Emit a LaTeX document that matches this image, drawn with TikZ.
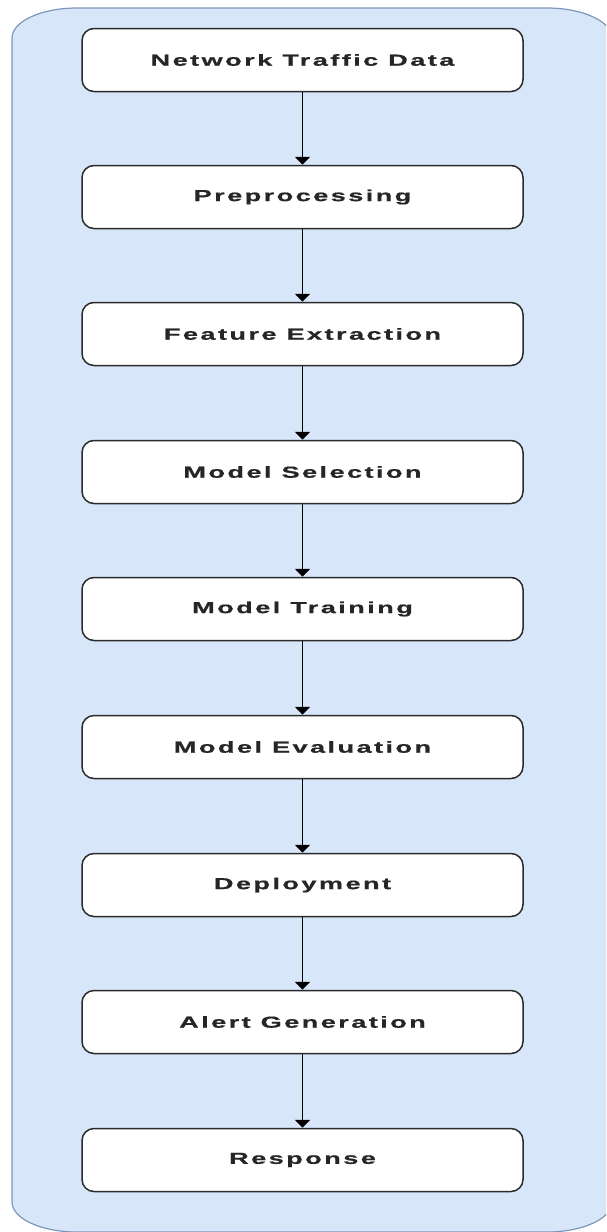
\documentclass[tikz,border=0pt]{standalone}
\usepackage{fontspec}
\usetikzlibrary{arrows.meta}
\newfontfamily\lblfont[FakeStretch=1.7,LetterSpace=15,FakeBold=0.6]{Liberation Sans Bold}
\definecolor{bgfill}{HTML}{D7E6F8}
\definecolor{bgdraw}{HTML}{7F97B8}
\definecolor{boxdraw}{HTML}{2B2B2B}
\tikzset{
  stepbox/.style={draw=boxdraw, fill=white, line width=1.5pt, rounded corners=12pt,
    minimum width=441pt, minimum height=63pt, inner sep=0pt,
    font=\lblfont\fontsize{16pt}{19pt}\selectfont, text=black!85},
  flow/.style={draw=black, line width=1.8pt, -{Triangle[width=15pt,length=8pt]}}
}
\begin{document}
\begin{tikzpicture}[x=1pt,y=-1pt]
\useasboundingbox (0,0) rectangle (606,1232);
\begin{scope}
\clip (0,0) rectangle (606,1232);
\path[fill=bgfill, draw=bgdraw, line width=1.2pt]
  (12,38) arc[start angle=180, end angle=270, x radius=65, y radius=30]
  -- (547,8) arc[start angle=270, end angle=360, x radius=65, y radius=30]
  -- (612,1202) arc[start angle=0, end angle=90, x radius=65, y radius=30]
  -- (77,1232) arc[start angle=90, end angle=180, x radius=65, y radius=30]
  -- cycle;
\end{scope}
\node[stepbox] (n1) at (302.5,60) {Network Traffic Data};
\node[stepbox] (n2) at (302.5,197) {Preprocessing};
\node[stepbox] (n3) at (302.5,334) {Feature Extraction};
\node[stepbox] (n4) at (302.5,472) {Model Selection};
\node[stepbox] (n5) at (302.5,609) {Model Training};
\node[stepbox] (n6) at (302.5,747) {Model Evaluation};
\node[stepbox] (n7) at (302.5,885) {Deployment};
\node[stepbox] (n8) at (302.5,1022) {Alert Generation};
\node[stepbox] (n9) at (302.5,1160) {Response};
\foreach \a/\b in {n1/n2,n2/n3,n3/n4,n4/n5,n5/n6,n6/n7,n7/n8,n8/n9}
  \draw[flow] (\a) -- (\b);
\end{tikzpicture}
\end{document}
